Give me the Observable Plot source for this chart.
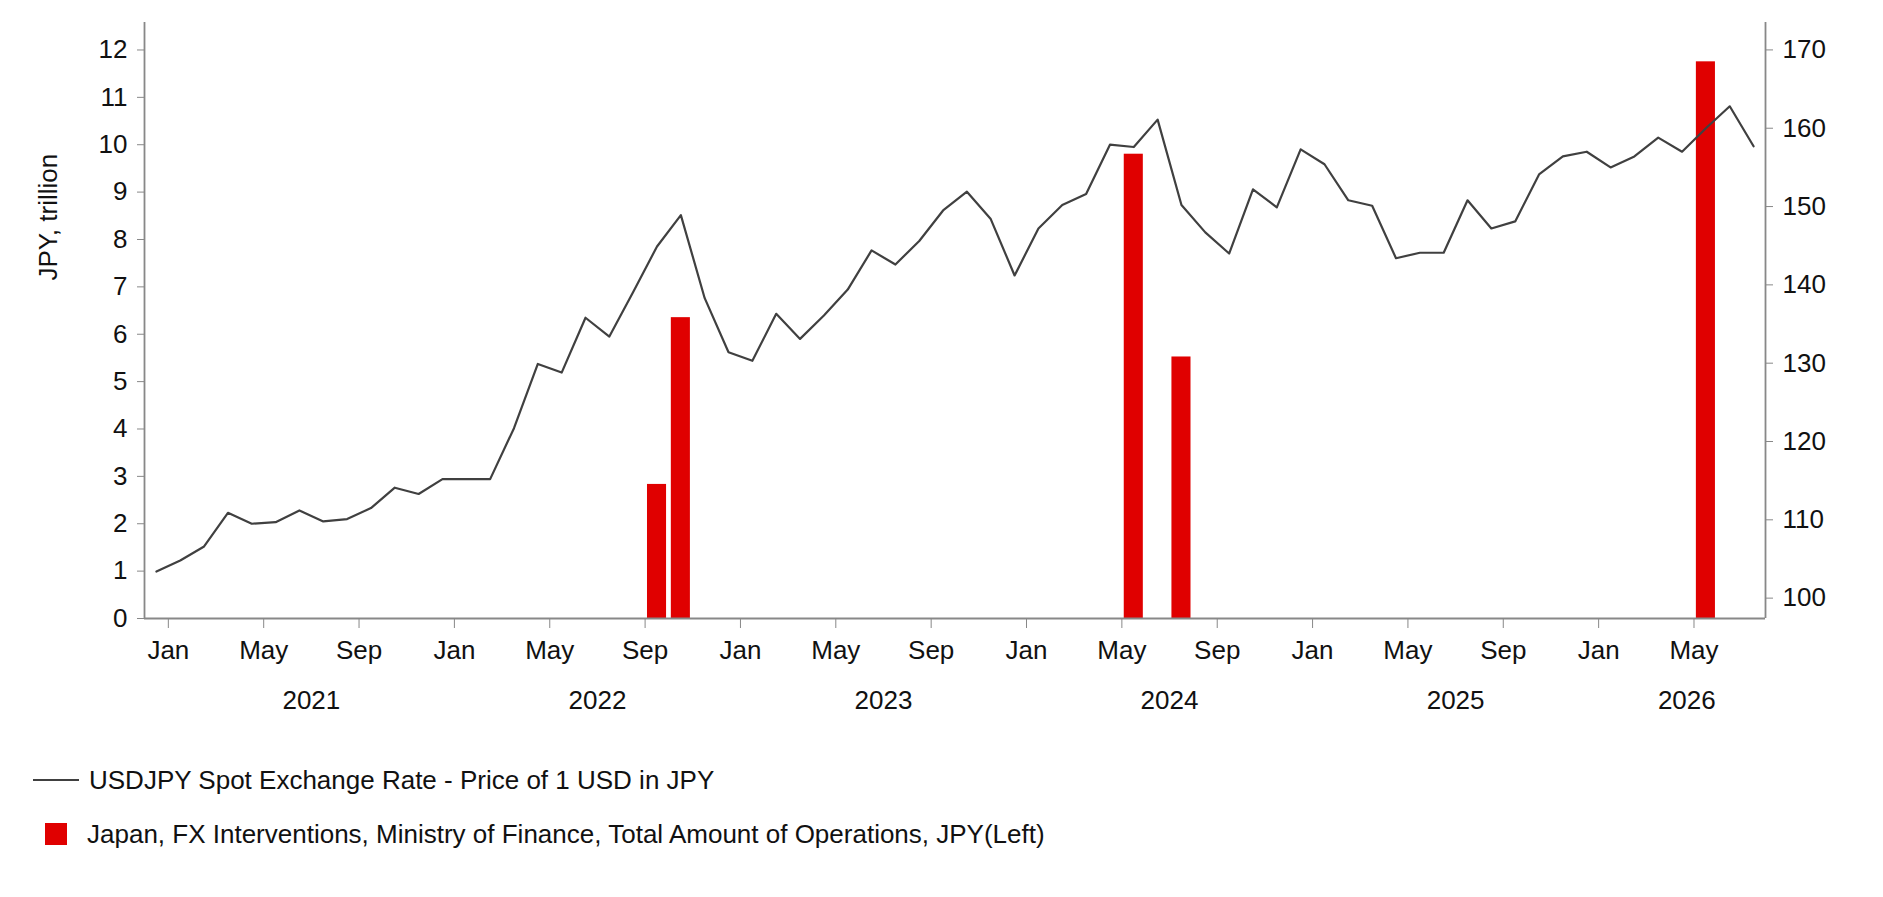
<!DOCTYPE html>
<html><head><meta charset="utf-8">
<script src="https://cdn.jsdelivr.net/npm/d3@7"></script>
<script src="https://cdn.jsdelivr.net/npm/@observablehq/plot@0.6"></script>
<style>
body{margin:0;background:#fff;font-family:"Liberation Sans",Arial,sans-serif;}
.leg{font-size:26px;color:#111;display:flex;align-items:center;margin-left:33px;height:54px}
</style></head><body>
<div id="chart"></div>
<div class="leg" style="margin-top:18px"><span style="display:inline-block;width:46px;height:2px;background:#404040;margin-right:10px"></span>USDJPY Spot Exchange Rate - Price of 1 USD in JPY</div>
<div class="leg"><span style="display:inline-block;width:22px;height:22px;background:#e00000;margin-left:12px;margin-right:20px"></span>Japan, FX Interventions, Ministry of Finance, Total Amount of Operations, JPY(Left)</div>
<script>
// month index 0 = Jan 2021
const usdjpy = [103.4,104.8,106.6,110.9,109.5,109.7,111.2,109.8,110.1,111.5,114.1,113.3,115.2,115.2,115.2,121.7,129.9,128.8,135.8,133.4,139.1,144.9,148.9,138.3,131.4,130.3,136.3,133.1,136.1,139.4,144.4,142.6,145.6,149.5,151.9,148.4,141.2,147.2,150.2,151.6,157.9,157.6,161.1,150.2,146.7,144.0,152.2,149.9,157.3,155.4,150.8,150.1,143.4,144.1,144.1,150.8,147.2,148.1,154.1,156.4,157.0,155.0,156.4,158.8,157.0,160.0,162.8,157.7];
const interventionMonths = [20,21,40,42,64];
const interventionAmounts = [2.83,6.35,9.8,5.52,11.75];
const monthTicks = [0,4,8,12,16,20,24,28,32,36,40,44,48,52,56,60,64];
const monthNames = ["Jan","May","Sep"];
const years = ["2021","2022","2023","2024","2025","2026"];
const yearPos = [6,18,30,42,54,63.7];
const rightTicks = [100,110,120,130,140,150,160,170];

const R0=97.4, R1=173.5, L1=12.58;
const toL = p => (p-R0)/(R1-R0)*L1;
const fromL = v => R0 + v/L1*(R1-R0);
const line = usdjpy.map((p,i)=>({x:i-0.5,y:toL(p)}));
const bars = interventionMonths.map((m,i)=>({x1:m+0.1,x2:m+0.9,y:interventionAmounts[i]}));
const yrs = years.map((t,i)=>({x:yearPos[i],t}));
const ax="#888";
const chart = Plot.plot({
  width:1883, height:735, marginLeft:144, marginRight:118, marginTop:22, marginBottom:117,
  style:{fontFamily:"Liberation Sans, Arial, sans-serif",fontSize:"26px",color:"#111"},
  x:{type:"linear",domain:[-1,67]},
  y:{domain:[0,L1]},
  marks:[
    Plot.rectY(bars,{x1:"x1",x2:"x2",y:"y",fill:"#e00000"}),
    Plot.line(line,{x:"x",y:"y",stroke:"#404040",strokeWidth:2.2}),
    Plot.ruleX([-1,67],{stroke:ax,strokeWidth:1.8}),
    Plot.ruleY([0],{stroke:ax,strokeWidth:1.8}),
    Plot.axisY({anchor:"left",ticks:d3.range(0,13),tickFormat:d=>d,tickSize:7,stroke:ax,tickPadding:10,label:null}),
    Plot.axisY({anchor:"right",ticks:rightTicks.map(toL),tickFormat:v=>Math.round(fromL(v)),tickSize:7,stroke:ax,tickPadding:10,label:null}),
    Plot.axisX({ticks:monthTicks,tickFormat:(d,i)=>monthNames[i%3],tickSize:10,stroke:ax,tickPadding:12,label:null}),
    Plot.text(yrs,{x:"x",text:"t",frameAnchor:"bottom",dy:90,fontSize:26,fill:"#111"}),
    Plot.text(["JPY, trillion"],{frameAnchor:"left",dx:-96,dy:-40,rotate:-90,fontSize:26,fill:"#111"})
  ]
});
document.getElementById("chart").appendChild(chart);
</script></body></html>
